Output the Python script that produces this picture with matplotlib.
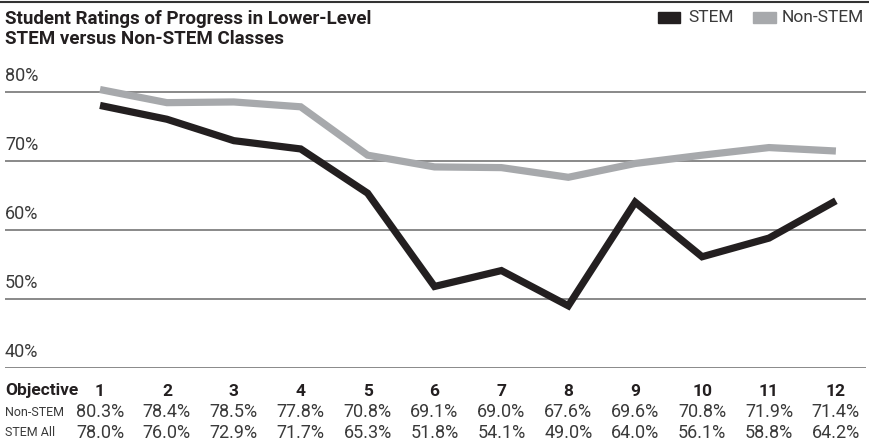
import matplotlib
matplotlib.use('Agg')
import matplotlib.pyplot as plt
import matplotlib.transforms as mtrans
from matplotlib.patches import Rectangle
from matplotlib.lines import Line2D

plt.rcParams['font.family'] = ['Roboto', 'DejaVu Sans']

objectives = list(range(1, 13))
non_stem = [80.3, 78.4, 78.5, 77.8, 70.8, 69.1, 69.0, 67.6, 69.6, 70.8, 71.9, 71.4]
stem_all = [78.0, 76.0, 72.9, 71.7, 65.3, 51.8, 54.1, 49.0, 64.0, 56.1, 58.8, 64.2]
y_ticks = [40, 50, 60, 70, 80]

black = '#231f20'
gray = '#a7a9ac'
text_col = '#3a3a3a'

W, H = 870, 445
fig = plt.figure(figsize=(W / 100, H / 100), dpi=100)

def fx(px):
    return px / W

def fy(py):
    return 1 - py / H

ax = fig.add_axes([fx(5), fy(368), fx(866) - fx(5), fy(70) - fy(368)])
ax.set_xlim(-0.42, 12.45)
ax.set_ylim(40, 40 + (368 - 70) / 6.91)
ax.axis('off')

for v in y_ticks:
    ax.axhline(v, color='#808080', lw=1.3, zorder=1)
    tr = mtrans.offset_copy(ax.get_yaxis_transform(), fig=fig, y=7, units='dots')
    ax.text(0, v, f'{v}%', transform=tr, ha='left', va='bottom',
            fontsize=13, color=text_col)

ax.plot(objectives, non_stem, color=gray, lw=5.2, solid_joinstyle='miter',
        solid_capstyle='butt', zorder=2, clip_on=False)
ax.plot(objectives, stem_all, color=black, lw=5.2, solid_joinstyle='miter',
        solid_capstyle='butt', zorder=3, clip_on=False)

# top rule
fig.add_artist(Line2D([0, 1], [fy(2), fy(2)], color='#333333', lw=1.5))

fig.text(fx(5), fy(29), 'Student Ratings of Progress in Lower-Level\nSTEM versus Non-STEM Classes',
         ha='left', va='center', fontsize=13.5, fontweight='bold', color='#231f20',
         linespacing=1.1)

# legend
fig.add_artist(Rectangle((fx(658), fy(23)), fx(22), fy(12) - fy(23), color=black,
                         transform=fig.transFigure))
fig.text(fx(688), fy(17), 'STEM', ha='left', va='center', fontsize=12.5, color=text_col)
fig.add_artist(Rectangle((fx(753), fy(23)), fx(23), fy(12) - fy(23), color=gray,
                         transform=fig.transFigure))
fig.text(fx(782), fy(17), 'Non-STEM', ha='left', va='center', fontsize=12.5, color=text_col)

# data table
tt = mtrans.blended_transform_factory(ax.transData, fig.transFigure)
fig.text(fx(5), fy(391), 'Objective', ha='left', va='center', fontsize=12.5,
         fontweight='bold', color='#231f20')
fig.text(fx(5), fy(412), 'Non-STEM', ha='left', va='center', fontsize=9,
         color=text_col)
fig.text(fx(5), fy(433), 'STEM All', ha='left', va='center', fontsize=9,
         color=text_col)
for i, o in enumerate(objectives):
    fig.text(o, fy(391), str(o), transform=tt, ha='center', va='center', fontsize=12.5,
             fontweight='bold', color='#231f20')
    fig.text(o, fy(412), f'{non_stem[i]:.1f}%', transform=tt, ha='center', va='center',
             fontsize=13, color=text_col)
    fig.text(o, fy(433), f'{stem_all[i]:.1f}%', transform=tt, ha='center', va='center',
             fontsize=13, color=text_col)

fig.savefig('out.png', dpi=100)
